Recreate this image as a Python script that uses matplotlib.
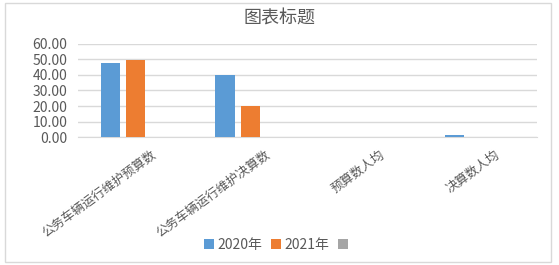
import matplotlib.pyplot as plt
import numpy as np
from matplotlib.patches import Rectangle

plt.rcParams['font.family'] = ['Noto Sans CJK SC', 'DejaVu Sans']

categories = ["公务车辆运行维护预算数", "公务车辆运行维护决算数", "预算数人均", "决算数人均"]
series_names = ["2020年", "2021年", " "]
v2020 = [48.0, 40.0, 0.0, 1.0]
v2021 = [49.5, 20.0, 0.0, 0.0]
v_other = [0.0, 0.0, 0.0, 0.0]
colors = ["#5B9BD5", "#ED7D31", "#A5A5A5"]
text_gray = "#595959"

fig = plt.figure(figsize=(5.59, 2.65), dpi=100)
# outer chart border
fig.patches.append(Rectangle((0.009, 0.011), 0.977, 0.977, transform=fig.transFigure,
                             fill=False, edgecolor="#D9D9D9", linewidth=1))

ax = fig.add_axes([0.14, 0.483, 0.821, 0.351])
x = np.arange(len(categories))
w = 0.17
step = 0.22
for i, (vals, name) in enumerate(zip([v2020, v2021, v_other], series_names)):
    ax.bar(x + (i - 1) * step, vals, w, color=colors[i], label=name, zorder=3)

ax.set_xlim(-0.5, len(categories) - 0.5)
ax.set_ylim(0, 60)
ax.set_yticks(np.arange(0, 61, 10))
ax.set_yticklabels(["%.2f" % t for t in np.arange(0, 61, 10)], fontsize=10, color=text_gray)
ax.yaxis.grid(True, color="#D9D9D9", linewidth=1, zorder=0)
ax.tick_params(axis="y", length=0, pad=8)
ax.tick_params(axis="x", length=0, pad=8)
for s in ["top", "right", "left"]:
    ax.spines[s].set_visible(False)
ax.spines["bottom"].set_color("#D9D9D9")

ax.set_xticks(x + 0.13)
ax.set_xticklabels(categories, rotation=36, ha="right", rotation_mode="anchor",
                   fontsize=9, color=text_gray)

fig.text(0.5, 0.93, "图表标题", ha="center", va="center", fontsize=13, color=text_gray)

fig.legend(loc="center", bbox_to_anchor=(0.5, 0.075), ncol=3, frameon=False,
           fontsize=10, labelcolor=text_gray, handlelength=0.7, handleheight=0.7,
           handletextpad=0.3, columnspacing=0.6)

fig.savefig("out.png", dpi=100)
